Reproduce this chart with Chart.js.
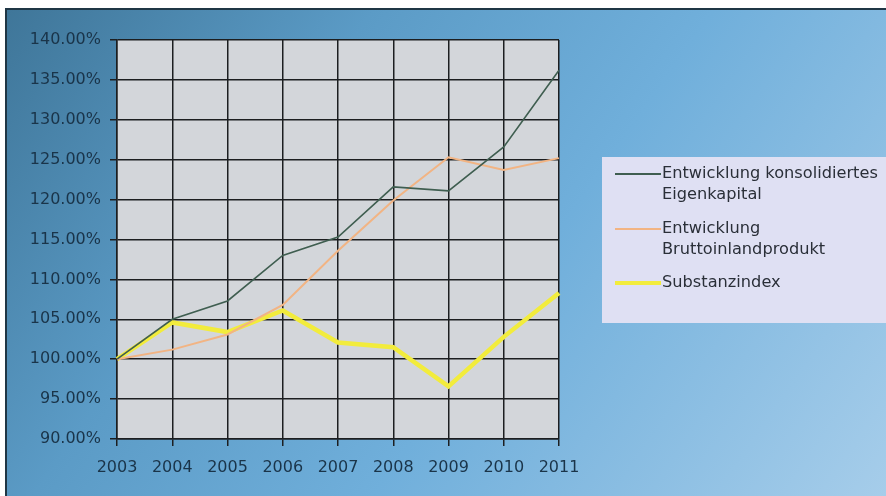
<!DOCTYPE html>
<html>
<head>
<meta charset="utf-8">
<script src="https://cdn.jsdelivr.net/npm/chart.js@4/dist/chart.umd.min.js"></script>
<style>
  html, body { margin: 0; padding: 0; background: #ffffff; }
  #frame {
    position: absolute; left: 5px; top: 8px; width: 881px; height: 488px;
    border-top: 2px solid #1f3645; border-left: 2px solid #1f3645;
    box-sizing: border-box;
    background: linear-gradient(125deg, #3f7699 0%, #5b9bc6 30%, #70afdb 58%, #a6cdea 100%);
  }
  #wrap { position: absolute; left: 0; top: 0; width: 886px; height: 496px; }
</style>
</head>
<body>
<div id="frame"></div>
<div id="wrap"><canvas id="c" width="886" height="496"></canvas></div>
<script>
const categories = ['2003','2004','2005','2006','2007','2008','2009','2010','2011'];
const seriesNames = ['Entwicklung konsolidiertes Eigenkapital', 'Entwicklung Bruttoinlandprodukt', 'Substanzindex'];
const legendLines = [['Entwicklung konsolidiertes', 'Eigenkapital'], ['Entwicklung', 'Bruttoinlandprodukt'], ['Substanzindex']];
const eigenkapital = [100.0, 105.0, 107.3, 113.0, 115.3, 121.6, 121.1, 126.6, 136.2];
const bip = [100.0, 101.2, 103.1, 106.8, 113.6, 119.9, 125.3, 123.7, 125.2];
const substanz = [100.0, 104.6, 103.4, 106.1, 102.1, 101.5, 96.6, 102.8, 108.3];
const yTicks = [90, 95, 100, 105, 110, 115, 120, 125, 130, 135, 140];

const colors = ['#3f5e50', '#f2b483', '#f2ec3c'];
const widths = [1.6, 2, 4.5];
const FONT = '"DejaVu Sans", Verdana, sans-serif';

const plotBg = {
  id: 'plotBg',
  beforeDraw(chart) {
    const a = chart.chartArea, ctx = chart.ctx;
    ctx.save();
    ctx.fillStyle = '#d3d6da';
    ctx.fillRect(a.left, a.top, a.right - a.left, a.bottom - a.top);
    ctx.restore();
  }
};

const customLegend = {
  id: 'customLegend',
  afterDraw(chart) {
    const ctx = chart.ctx;
    ctx.save();
    ctx.fillStyle = '#dfe0f3';
    ctx.fillRect(602, 157, 290, 166);
    ctx.font = '15px ' + FONT;
    ctx.textBaseline = 'middle';
    const starts = [174, 229, 283];
    chart.data.datasets.forEach((ds, i) => {
      const y = starts[i];
      ctx.strokeStyle = ds.borderColor;
      ctx.lineWidth = i === 2 ? 4 : 1.8;
      ctx.beginPath();
      ctx.moveTo(615, y);
      ctx.lineTo(661, y);
      ctx.stroke();
      ctx.fillStyle = '#2a2f38';
      legendLines[i].forEach((t, j) => {
        ctx.save();
        ctx.translate(662, y + j * 21);
        ctx.scale(1.08, 1);
        ctx.fillText(t, 0, 0);
        ctx.restore();
      });
    });
    ctx.restore();
  }
};

new Chart(document.getElementById('c'), {
  type: 'line',
  data: {
    labels: categories,
    datasets: [
      { label: seriesNames[0], data: eigenkapital, borderColor: colors[0], borderWidth: widths[0] },
      { label: seriesNames[1], data: bip, borderColor: colors[1], borderWidth: widths[1] },
      { label: seriesNames[2], data: substanz, borderColor: colors[2], borderWidth: widths[2] }
    ]
  },
  options: {
    responsive: false,
    animation: false,
    devicePixelRatio: 1,
    layout: { padding: { left: 0, top: 40, right: 327, bottom: 0 } },
    elements: { point: { radius: 0 }, line: { tension: 0 } },
    plugins: { legend: { display: false }, tooltip: { enabled: false } },
    scales: {
      x: {
        offset: false,
        grid: { color: '#1c1e20', lineWidth: 1.5, tickLength: 7, drawTicks: true, tickColor: '#1c1e20' },
        border: { color: '#1c1e20', width: 1.5 },
        ticks: { color: '#1a3449', font: { size: 16, family: FONT }, padding: 12, maxRotation: 0, autoSkip: false },
        afterFit(s) { s.height = 57; }
      },
      y: {
        min: 90, max: 140,
        afterBuildTicks(s) { s.ticks = yTicks.map(v => ({ value: v })); },
        grid: { color: '#1c1e20', lineWidth: 1.5, tickLength: 7, tickColor: '#1c1e20' },
        border: { color: '#1c1e20', width: 1.5 },
        ticks: {
          color: '#1a3449', padding: 9,
          font: { size: 16, family: FONT },
          callback: v => v.toFixed(2) + '%'
        },
        afterFit(s) { s.width = 117; }
      }
    }
  },
  plugins: [plotBg, customLegend]
});
</script>
</body>
</html>
